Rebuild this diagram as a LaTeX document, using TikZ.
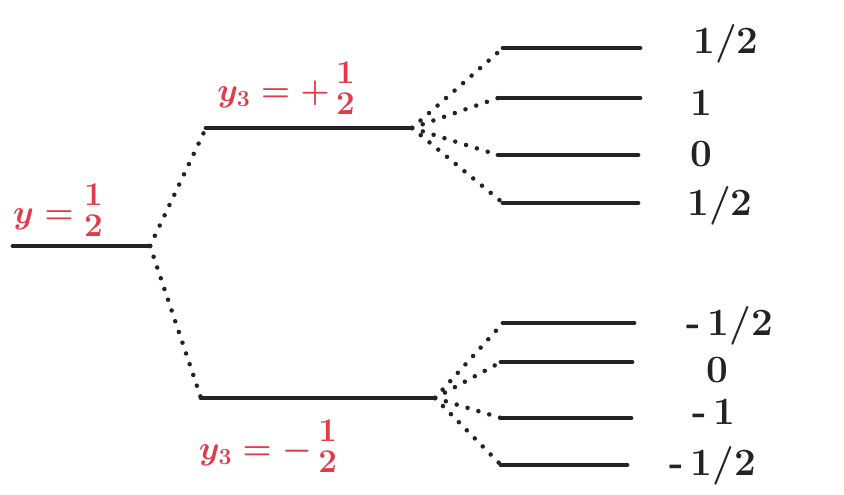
\documentclass[tikz,border=0pt]{standalone}
\usepackage{amsmath}
\usepackage{xcolor}
\definecolor{penred}{RGB}{226,58,72}
\definecolor{penblack}{RGB}{35,35,35}
\newcommand{\half}{{\renewcommand{\arraystretch}{0.8}\begin{array}{@{}c@{}}1\\2\end{array}}}
\tikzset{
  level/.style={penblack, line width=3.6pt, line cap=round},
  split/.style={penblack, line width=3.4pt, line cap=round, dash pattern=on 0pt off 8.5pt},
  redlabel/.style={penred, inner sep=0.75pt, font=\fontsize{26}{29}\selectfont\boldmath},
  mlabel/.style={penblack, inner sep=0.75pt, font=\fontsize{29}{32}\selectfont\bfseries}
}
\begin{document}
\begin{tikzpicture}[x=0.75pt,y=0.75pt,yscale=-1,xscale=1]
\useasboundingbox (0,0) rectangle (844,495);

% Level ends
\coordinate (s0) at (13,246);
\coordinate (s1) at (150,246);
\coordinate (u0) at (206,128);
\coordinate (u1) at (412,128);
\coordinate (d0) at (201,398);
\coordinate (d1) at (435,398);
% upper quartet
\coordinate (ua0) at (503,48);  \coordinate (ua1) at (640,48);
\coordinate (ub0) at (498,98);  \coordinate (ub1) at (640,98);
\coordinate (uc0) at (498,155); \coordinate (uc1) at (638,155);
\coordinate (ud0) at (503,203); \coordinate (ud1) at (638,203);
% lower quartet
\coordinate (da0) at (503,323); \coordinate (da1) at (634,323);
\coordinate (db0) at (501,362); \coordinate (db1) at (632,362);
\coordinate (dc0) at (501,418); \coordinate (dc1) at (631,418);
\coordinate (dd0) at (501,465); \coordinate (dd1) at (627,465);

%Straight Lines
\draw [level] (s0) -- (s1);
\draw [level] (u0) -- (u1);
\draw [level] (d0) -- (d1);
\draw [level] (ua0) -- (ua1);
\draw [level] (ub0) -- (ub1);
\draw [level] (uc0) -- (uc1);
\draw [level] (ud0) -- (ud1);
\draw [level] (da0) -- (da1);
\draw [level] (db0) -- (db1);
\draw [level] (dc0) -- (dc1);
\draw [level] (dd0) -- (dd1);

%Dotted splittings
\draw [split] (s1) -- (u0);
\draw [split] (s1) -- (d0);
\draw [split] (u1) -- (ua0);
\draw [split] (u1) -- (ub0);
\draw [split] (u1) -- (uc0);
\draw [split] (u1) -- (ud0);
\draw [split] (d1) -- (da0);
\draw [split] (d1) -- (db0);
\draw [split] (d1) -- (dc0);
\draw [split] (d1) -- (dd0);

% Text Node
\node [redlabel] (ls) at (58,215) {$y=\half$};
% Text Node
\node [redlabel] (lu) at (286,93) {$y_3=+\,\half$};
% Text Node
\node [redlabel] (ld) at (268,451) {$y_3=-\,\half$};

% Text Node
\node [mlabel] (ma) at (726,44) {1/2};
% Text Node
\node [mlabel] (mb) at (701,103) {1};
% Text Node
\node [mlabel] (mc) at (701,154) {0};
% Text Node
\node [mlabel] (md) at (720,206) {1/2};
% Text Node
\node [mlabel] (me) at (730,326) {-\,1/2};
% Text Node
\node [mlabel] (mf) at (717,370) {0};
% Text Node
\node [mlabel] (mg) at (714,412) {-\,1};
% Text Node
\node [mlabel] (mh) at (713,466) {-\,1/2};

\end{tikzpicture}
\end{document}
